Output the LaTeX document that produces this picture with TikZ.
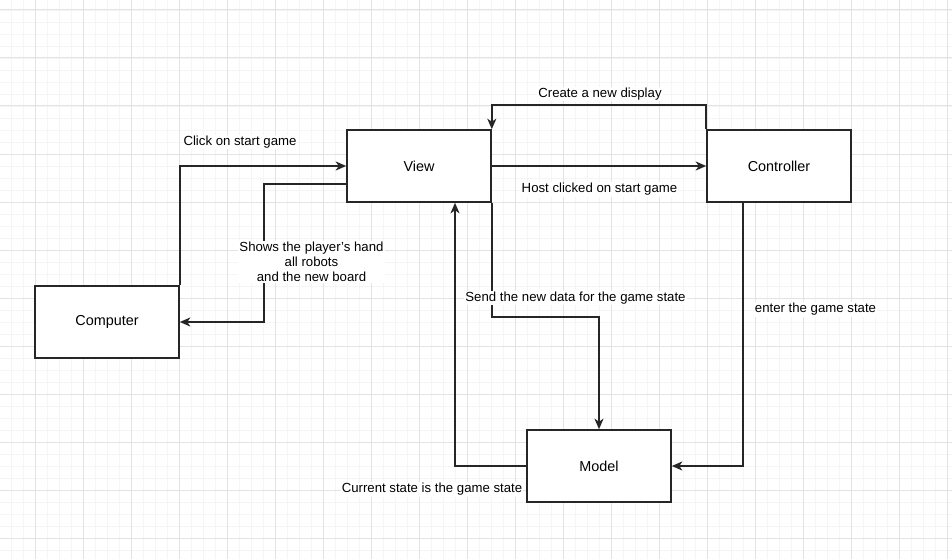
\documentclass[tikz,border=0pt]{standalone}
\usepackage{fontspec}
\setmainfont{Liberation Sans}
\usetikzlibrary{arrows.meta}
\begin{document}
\begin{tikzpicture}[x=1pt,y=-1pt,
  box/.style={draw=black!85, line width=1.6pt, fill=white, minimum width=144pt, minimum height=72pt, inner sep=0pt, font=\fontsize{14.4}{17}\selectfont},
  conn/.style={draw=black!85, line width=1.6pt, -{Stealth[length=10.5pt,width=9pt,inset=3pt]}},
  lbl/.style={fill=white, inner sep=1pt, font=\fontsize{13.2}{15}\selectfont, align=center},
  minorline/.style={draw=black!4, line width=0.8pt},
  majorline/.style={draw=black!11, line width=1pt}]
\useasboundingbox (0,0) rectangle (952,559);
\fill[white] (0,0) rectangle (952,559);
% grid
\foreach \i in {0,...,78} {\draw[minorline] ({11+12*\i},0) -- ({11+12*\i},559);}
\foreach \j in {0,...,45} {\draw[minorline] (0,{10+12*\j}) -- (952,{10+12*\j});}
\foreach \i in {0,...,19} {\draw[majorline] ({35+48*\i},0) -- ({35+48*\i},559);}
\foreach \j in {0,...,11} {\draw[majorline] (0,{10+48*\j}) -- (952,{10+48*\j});}
% nodes
\node[box] (comp) at (107,322) {Computer};
\node[box] (view) at (419,166) {View};
\node[box] (ctrl) at (779,166) {Controller};
\node[box] (model) at (599,466) {Model};
% connectors
\draw[conn] (comp.north east) |- (view.west);
\draw[conn] ([yshift=-18pt]view.west) -| ([xshift=84pt]comp.east) -- (comp.east);
\draw[conn] (ctrl.north west) -- ++(0,-24) -| (view.north east);
\draw[conn] (view.east) -- (ctrl.west);
\draw[conn] (view.south east) -- ++(0,114) -| (model.north);
\draw[conn] ([xshift=-36pt]ctrl.south) |- (model.east);
\draw[conn] (model.west) -| ([xshift=36pt]view.south);
% labels
\node[lbl] (l1) at (240,142) {Click on start game};
\node[lbl] (l2) at (311.5,262) {Shows the player's hand\\all robots\\and the new board};
\node[lbl] (l3) at (600,94) {Create a new display};
\node[lbl] (l4) at (599.5,189.5) {Host clicked on start game};
\node[lbl] (l5) at (575.5,298) {Send the new data for the game state};
\node[lbl] (l6) at (815.5,309.5) {enter the game state};
\node[lbl] (l7) at (432,489.5) {Current state is the game state};
\end{tikzpicture}
\end{document}
